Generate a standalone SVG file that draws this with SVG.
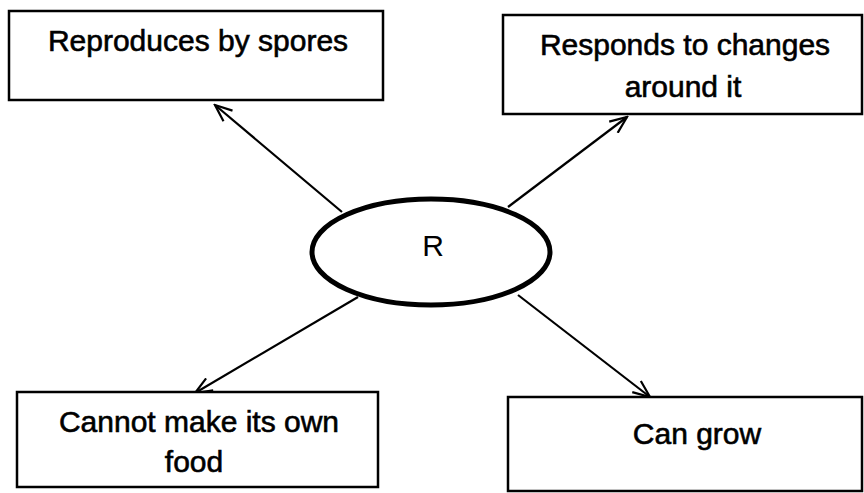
<svg xmlns="http://www.w3.org/2000/svg" width="864" height="493" viewBox="0 0 864 493">
<style>
.box{fill:#fff;stroke:#000;stroke-width:2.5}
.t{font-family:"Liberation Sans",Arial,sans-serif;font-size:30px;fill:#000;text-anchor:middle;stroke:#000;stroke-width:0.6}
.c{stroke:#000;stroke-width:2.2;fill:none;marker-end:url(#arr)}
</style>
<defs>
<marker id="arr" viewBox="0 0 20 16" refX="18" refY="8" markerWidth="20" markerHeight="16" markerUnits="userSpaceOnUse" orient="auto">
<path d="M1,1 L18,8 L1,15" fill="none" stroke="#000" stroke-width="2.2"/>
</marker>
</defs>
<rect width="864" height="493" fill="#fff"/>
<g id="connectors">
<line class="c" x1="342" y1="212" x2="215" y2="105"/>
<line class="c" x1="508" y1="207" x2="627" y2="117"/>
<line class="c" x1="358" y1="297" x2="195" y2="393"/>
<line class="c" x1="518" y1="295" x2="650" y2="397"/>
</g>
<g id="n-spores">
<rect class="box" x="9" y="11" width="374" height="89"/>
<text class="t" x="198" y="51">Reproduces by spores</text>
</g>
<g id="n-responds">
<rect class="box" x="503" y="15" width="359" height="99"/>
<text class="t" x="685" y="55">Responds to changes</text>
<text class="t" x="683" y="97">around it</text>
</g>
<g id="n-R">
<ellipse cx="431" cy="252" rx="119" ry="53" fill="#fff" stroke="#000" stroke-width="5"/>
<text x="433" y="256" font-family="'Liberation Sans',Arial,sans-serif" font-size="30" text-anchor="middle" fill="#000">R</text>
</g>
<g id="n-food">
<rect class="box" x="17" y="392" width="361" height="95"/>
<text class="t" x="199" y="432">Cannot make its own</text>
<text class="t" x="194" y="472">food</text>
</g>
<g id="n-grow">
<rect class="box" x="508" y="397" width="354" height="94"/>
<text class="t" x="697" y="444">Can grow</text>
</g>
</svg>
